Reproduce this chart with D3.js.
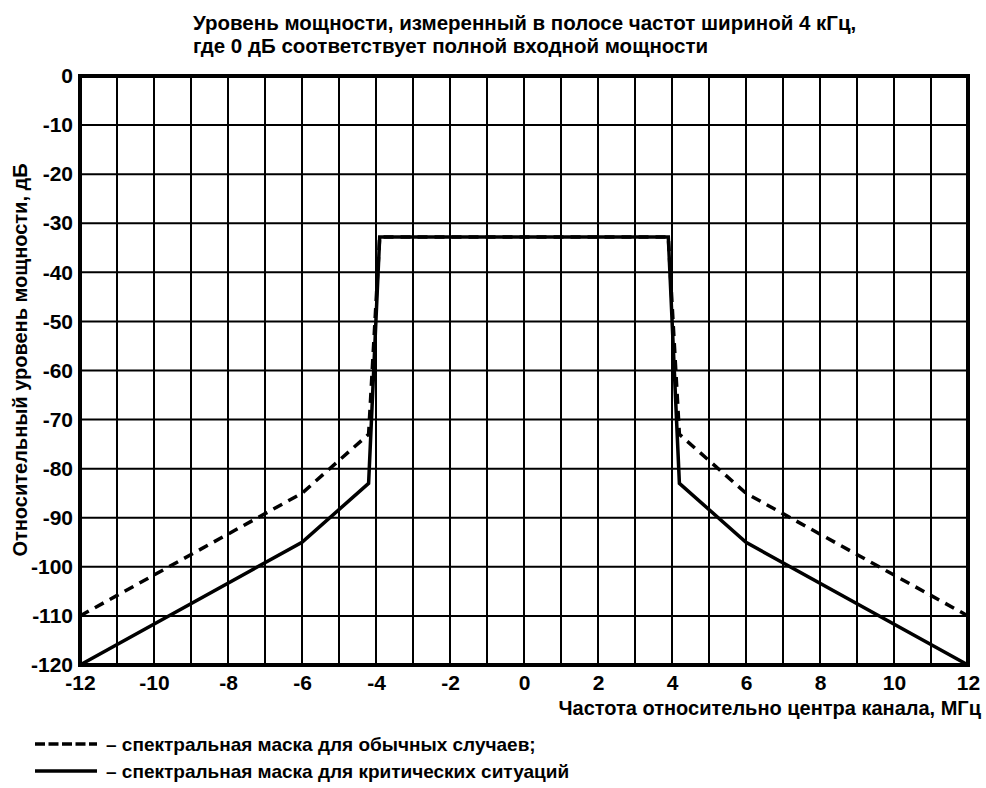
<!DOCTYPE html>
<html>
<head>
<meta charset="utf-8">
<script src="https://d3js.org/d3.v7.min.js"></script>
<style>
    body { margin: 0; background: #fff; }
    svg { display: block; font-family: "Liberation Sans", Arial, sans-serif; }
    text { fill: #000; font-weight: bold; }
</style>
</head>
<body>
<svg width="986" height="788"></svg>
<script>
// spectrum mask breakpoints, MHz / dB
const freqNormal = [-12, -6, -4.2, -3.9, 3.9, 4.2, 6, 12];
const levelNormal = [-110, -85, -73, -32.8, -32.8, -73, -85, -110];
const freqCritical = [-12, -6, -4.2, -3.9, 3.9, 4.2, 6, 12];
const levelCritical = [-120, -95, -83, -32.8, -32.8, -83, -95, -120];

const xTicks = [-12, -10, -8, -6, -4, -2, 0, 2, 4, 6, 8, 10, 12];
const yTicks = [0, -10, -20, -30, -40, -50, -60, -70, -80, -90, -100, -110, -120];

const titleLines = [
    "Уровень мощности, измеренный в полосе частот шириной 4 кГц,",
    "где 0 дБ соответствует полной входной мощности"
];
const xTitle = "Частота относительно центра канала, МГц";
const yTitle = "Относительный уровень мощности, дБ";
const legendLabels = [
    "– спектральная маска для обычных случаев;",
    "– спектральная маска для критических ситуаций"
];

const svg = d3.select("svg"),
    width = +svg.attr("width"),
    height = +svg.attr("height");

const margin = {top: 76, right: 18, bottom: 123, left: 80};

const x = d3.scaleLinear()
    .domain([-12, 12])
    .range([margin.left, width - margin.right]);

const y = d3.scaleLinear()
    .domain([-120, 0])
    .range([height - margin.bottom, margin.top]);

// grid
const grid = svg.append("g").attr("class", "grid");

grid.selectAll("line.v")
    .data(d3.range(-11, 12))
    .enter().append("line")
    .attr("class", "v")
    .attr("x1", d => x(d)).attr("x2", d => x(d))
    .attr("y1", y(0)).attr("y2", y(-120))
    .attr("stroke", "#000")
    .attr("stroke-width", 2);

grid.selectAll("line.h")
    .data(d3.range(-110, 0, 10))
    .enter().append("line")
    .attr("class", "h")
    .attr("x1", x(-12)).attr("x2", x(12))
    .attr("y1", d => y(d)).attr("y2", d => y(d))
    .attr("stroke", "#000")
    .attr("stroke-width", 2);

// frame
svg.append("rect")
    .attr("x", x(-12))
    .attr("y", y(0))
    .attr("width", x(12) - x(-12))
    .attr("height", y(-120) - y(0))
    .attr("fill", "none")
    .attr("stroke", "#000")
    .attr("stroke-width", 4);

// axes (labels only, plain hyphen for minus)
const xAxis = svg.append("g")
    .attr("transform", "translate(0," + y(-120) + ")")
    .call(d3.axisBottom(x).tickValues(xTicks).tickFormat(d => String(d))
        .tickSize(0).tickPadding(10));

const yAxis = svg.append("g")
    .attr("transform", "translate(" + x(-12) + ",0)")
    .call(d3.axisLeft(y).tickValues(yTicks).tickFormat(d => String(d))
        .tickSize(0).tickPadding(7));

[xAxis, yAxis].forEach(function (g) {
    g.select(".domain").remove();
    g.selectAll("text")
        .attr("font-family", "Liberation Sans, Arial, sans-serif")
        .attr("font-size", 21)
        .attr("font-weight", "bold")
        .attr("fill", "#000");
});

// mask lines
const line = d3.line()
    .x(d => x(d[0]))
    .y(d => y(d[1]));

svg.append("path")
    .datum(d3.zip(freqNormal, levelNormal))
    .attr("d", line)
    .attr("fill", "none")
    .attr("stroke", "#000")
    .attr("stroke-width", 3.5)
    .attr("stroke-dasharray", "10,7");

svg.append("path")
    .datum(d3.zip(freqCritical, levelCritical))
    .attr("d", line)
    .attr("fill", "none")
    .attr("stroke", "#000")
    .attr("stroke-width", 3.5);

// titles
svg.append("g")
    .selectAll("text")
    .data(titleLines)
    .enter().append("text")
    .attr("x", x(-9) + 2)
    .attr("y", (d, i) => 30 + i * 23)
    .attr("font-size", 20.5)
    .text(d => d);

svg.append("text")
    .attr("x", 981)
    .attr("y", 715)
    .attr("text-anchor", "end")
    .attr("font-size", 20)
    .text(xTitle);

svg.append("text")
    .attr("transform", "translate(27," + 360 + ") rotate(-90)")
    .attr("text-anchor", "middle")
    .attr("font-size", 20)
    .text(yTitle);

// legend
const legend = svg.append("g")
    .selectAll("g")
    .data(legendLabels)
    .enter().append("g")
    .attr("transform", (d, i) => "translate(35," + (744 + i * 27) + ")");

legend.append("line")
    .attr("x1", 0).attr("x2", 62)
    .attr("stroke", "#000")
    .attr("stroke-width", 3.5)
    .attr("stroke-dasharray", (d, i) => i === 0 ? "10,3.5" : null);

legend.append("text")
    .attr("x", 71)
    .attr("y", 7)
    .attr("font-size", 19)
    .text(d => d);
</script>
</body>
</html>
